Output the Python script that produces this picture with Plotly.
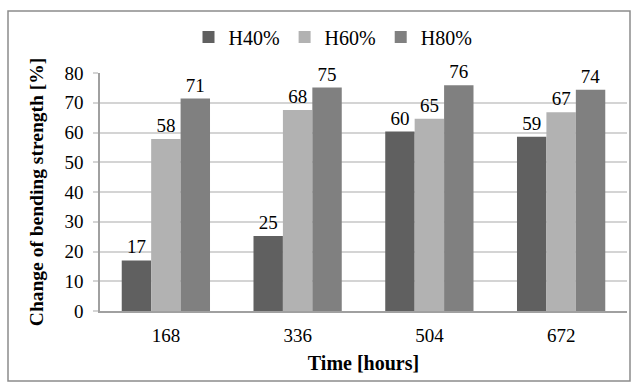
import plotly.graph_objects as go

categories = ["168", "336", "504", "672"]
h40 = [17.0, 25.2, 60.3, 58.6]
h60 = [57.8, 67.6, 64.6, 66.8]
h80 = [71.4, 75.1, 75.9, 74.4]
series_names = ["H40%", "H60%", "H80%"]
colors = ["#606060", "#b2b2b2", "#808080"]

FONT = "Liberation Serif, Times New Roman, serif"

fig = go.Figure()
for name, vals, col in zip(series_names, [h40, h60, h80], colors):
    fig.add_trace(go.Bar(
        x=categories, y=vals, name=name, marker_color=col,
        marker_line_width=0,
        texttemplate="%{y:.0f}", textposition="outside", cliponaxis=False,
        textfont=dict(family=FONT, size=19, color="#000000"),
    ))

L, R, T, B = 100, 11, 73, 78
pw = 638 - L - R
ph = 389 - T - B

def px_x(px):
    return (px - L) / pw

def px_y(py):
    return (389 - B - py) / ph

fig.update_layout(
    width=638, height=389,
    margin=dict(l=L, r=R, t=T, b=B),
    paper_bgcolor="white", plot_bgcolor="white",
    barmode="group", bargap=0.33, bargroupgap=0,
    font=dict(family=FONT, size=19, color="#000000"),
    showlegend=True,
    legend=dict(orientation="h", x=px_x(333), y=px_y(37), xanchor="center", yanchor="middle",
                font=dict(family=FONT, size=20), traceorder="normal",
                bgcolor="rgba(0,0,0,0)"),
    uniformtext=dict(mode=False),
    shapes=[dict(type="rect", xref="paper", yref="paper",
                 x0=px_x(8), x1=px_x(630), y0=px_y(381), y1=px_y(11),
                 line=dict(color="#8c8c8c", width=1.5), fillcolor="rgba(0,0,0,0)", layer="below")],
)
fig.update_xaxes(
    showline=True, linecolor="#a0a0a0", linewidth=1.5, showgrid=False,
    ticks="", ticklabelstandoff=6,
    tickfont=dict(family=FONT, size=19),
    title=dict(text="<b>Time [hours]</b>", font=dict(family=FONT, size=20), standoff=11),
)
fig.update_yaxes(
    range=[0, 80], dtick=10, showline=True, linecolor="#a0a0a0", linewidth=1.5,
    showgrid=True, gridcolor="#d4d4d4", gridwidth=1.5, zeroline=False,
    ticks="outside", ticklen=5, tickcolor="#d4d4d4", tickwidth=1.5, ticklabelstandoff=6,
    tickfont=dict(family=FONT, size=19),
    title=dict(text="<b>Change of bending strength [%]</b>", font=dict(family=FONT, size=19.5), standoff=16),
)
fig.write_html("out.html")
